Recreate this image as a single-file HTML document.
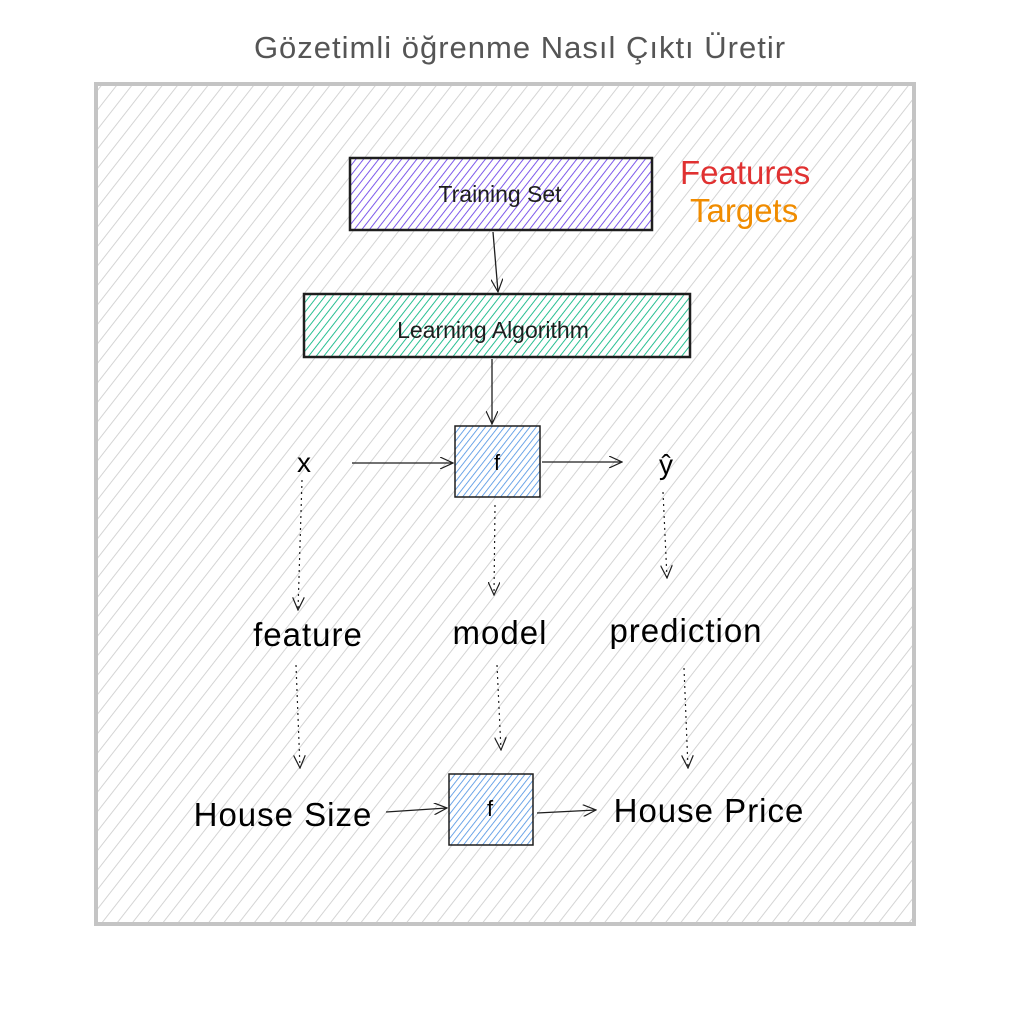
<!DOCTYPE html>
<html><head><meta charset="utf-8"><style>
html,body{margin:0;padding:0;background:#fff;}
svg{display:block;}
text{font-family:"Liberation Sans",sans-serif;}
</style></head><body>
<svg width="1012" height="1014" viewBox="0 0 1012 1014" xmlns="http://www.w3.org/2000/svg">
<defs>
<pattern id="hg" patternUnits="userSpaceOnUse" width="12" height="12" patternTransform="rotate(38)">
<line x1="0" y1="0" x2="0" y2="12" stroke="#d0d0d0" stroke-width="1.8"/></pattern>
<pattern id="hp" patternUnits="userSpaceOnUse" width="6" height="6" patternTransform="rotate(38)">
<line x1="0" y1="0" x2="0" y2="6" stroke="#7048e8" stroke-width="1.8"/></pattern>
<pattern id="hgr" patternUnits="userSpaceOnUse" width="6" height="6" patternTransform="rotate(38)">
<line x1="0" y1="0" x2="0" y2="6" stroke="#12b886" stroke-width="1.8"/></pattern>
<pattern id="hb" patternUnits="userSpaceOnUse" width="5" height="5" patternTransform="rotate(38)">
<line x1="0" y1="0" x2="0" y2="5" stroke="#4a90e2" stroke-width="1.6"/></pattern>
<marker id="ar" markerWidth="14" markerHeight="12" refX="13" refY="6" orient="auto" markerUnits="userSpaceOnUse">
<path d="M0,0 L13,6 L0,12" fill="none" stroke="#1e1e1e" stroke-width="1.2"/></marker>
</defs>
<text x="520" y="58" font-size="31" fill="#555" text-anchor="middle" letter-spacing="1">Gözetimli öğrenme Nasıl Çıktı Üretir</text>
<rect x="96" y="84" width="818" height="840" fill="url(#hg)" stroke="#c4c4c4" stroke-width="4"/>
<rect x="350" y="158" width="302" height="72" fill="#fff"/>
<rect x="350" y="158" width="302" height="72" fill="url(#hp)" stroke="#1e1e1e" stroke-width="2.5"/>
<text x="500" y="202" font-size="23" text-anchor="middle" fill="#1e1e1e">Training Set</text>
<text x="680" y="184" font-size="33" fill="#e03131">Features</text>
<text x="690" y="222" font-size="33" fill="#f08c00">Targets</text>
<rect x="304" y="294" width="386" height="63" fill="#fff"/>
<rect x="304" y="294" width="386" height="63" fill="url(#hgr)" stroke="#1e1e1e" stroke-width="2.5"/>
<text x="493" y="338" font-size="23" text-anchor="middle" fill="#1e1e1e">Learning Algorithm</text>
<rect x="455" y="426" width="85" height="71" fill="#fff"/>
<rect x="455" y="426" width="85" height="71" fill="url(#hb)" stroke="#1e1e1e" stroke-width="1.5"/>
<text x="497" y="470" font-size="22" text-anchor="middle">f</text>
<rect x="449" y="774" width="84" height="71" fill="#fff"/>
<rect x="449" y="774" width="84" height="71" fill="url(#hb)" stroke="#1e1e1e" stroke-width="1.5"/>
<text x="490" y="816" font-size="22" text-anchor="middle">f</text>
<g stroke="#1e1e1e" stroke-width="1.3" fill="none" marker-end="url(#ar)">
<path d="M493,232 L498,292"/>
<path d="M492,359 L492,424"/>
<path d="M352,463 L453,463"/>
<path d="M542,462 L622,462"/>
<path d="M386,812 L447,808"/>
<path d="M537,813 L596,810"/>
</g>
<g stroke="#1e1e1e" stroke-width="1.2" fill="none" stroke-dasharray="2,4" marker-end="url(#ar)">
<path d="M302,480 L298,610"/>
<path d="M495,505 L494,595"/>
<path d="M663,492 L667,578"/>
<path d="M296,665 L300,768"/>
<path d="M497,665 L501,750"/>
<path d="M684,668 L688,768"/>
</g>
<text x="304" y="472" font-size="28" text-anchor="middle">x</text>
<text x="666" y="474" font-size="28" text-anchor="middle">ŷ</text>
<text x="308" y="646" font-size="33" text-anchor="middle" letter-spacing="1">feature</text>
<text x="500" y="644" font-size="33" text-anchor="middle" letter-spacing="1">model</text>
<text x="686" y="642" font-size="33" text-anchor="middle" letter-spacing="1">prediction</text>
<text x="283" y="826" font-size="33" text-anchor="middle" letter-spacing="1">House Size</text>
<text x="709" y="822" font-size="33" text-anchor="middle" letter-spacing="1">House Price</text>
</svg>
</body></html>
